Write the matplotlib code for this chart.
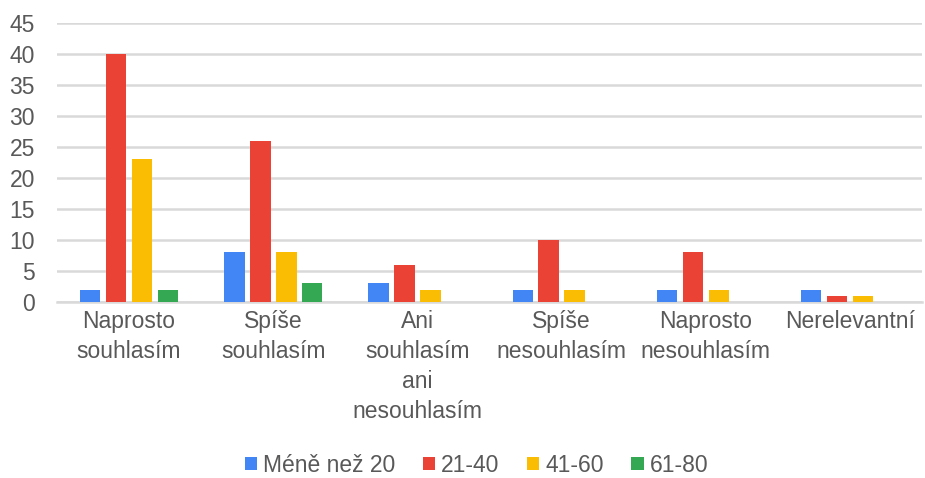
import matplotlib
matplotlib.use("Agg")
import matplotlib.pyplot as plt
import numpy as np

categories = ["Naprosto\nsouhlasím", "Spíše\nsouhlasím", "Ani\nsouhlasím\nani\nnesouhlasím",
              "Spíše\nnesouhlasím", "Naprosto\nnesouhlasím", "Nerelevantní"]
series_names = ["Méně než 20", "21-40", "41-60", "61-80"]
s_lt20 = [2, 8, 3, 2, 2, 2]
s_21_40 = [40, 26, 6, 10, 8, 1]
s_41_60 = [23, 8, 2, 2, 2, 1]
s_61_80 = [2, 3, 0, 0, 0, 0]
colors = ["#4285F4", "#EA4335", "#FBBC04", "#34A853"]
yticks = [0, 5, 10, 15, 20, 25, 30, 35, 40, 45]

plt.rcParams['font.family'] = ['Liberation Sans', 'DejaVu Sans']
fig = plt.figure(figsize=(9.25, 4.78), dpi=100)
ax = fig.add_axes([0.0616, 0.368, 0.9354, 0.5845])

x = np.arange(len(categories))
stride = 0.18
width = 0.142
data = [s_lt20, s_21_40, s_41_60, s_61_80]
for i, (vals, name, c) in enumerate(zip(data, series_names, colors)):
    ax.bar(x + (i - 1.5) * stride, vals, width, color=c, label=name, zorder=3)

ax.set_xlim(-0.5, len(categories) - 0.5)
ax.set_ylim(0, 45)
ax.set_yticks(yticks)
ax.set_xticks(x)
ax.set_xticklabels(categories, fontsize=16.5, color="#595959", linespacing=1.38)
ax.tick_params(axis='y', labelsize=16.5, labelcolor="#595959", length=0, pad=16)
ax.tick_params(axis='x', length=0, pad=6)
ax.grid(axis='y', color="#D9D9D9", linewidth=1.8, zorder=0)
for s in ["top", "right", "left"]:
    ax.spines[s].set_visible(False)
ax.spines["bottom"].set_color("#D9D9D9")
ax.spines["bottom"].set_linewidth(1.8)

fig.legend(loc="center", bbox_to_anchor=(0.515, 0.027), ncol=4, frameon=False,
           fontsize=16.5, labelcolor="#595959", handlelength=0.55, handleheight=0.55,
           handletextpad=0.25, columnspacing=1.2)

fig.savefig("out.png", dpi=100)
